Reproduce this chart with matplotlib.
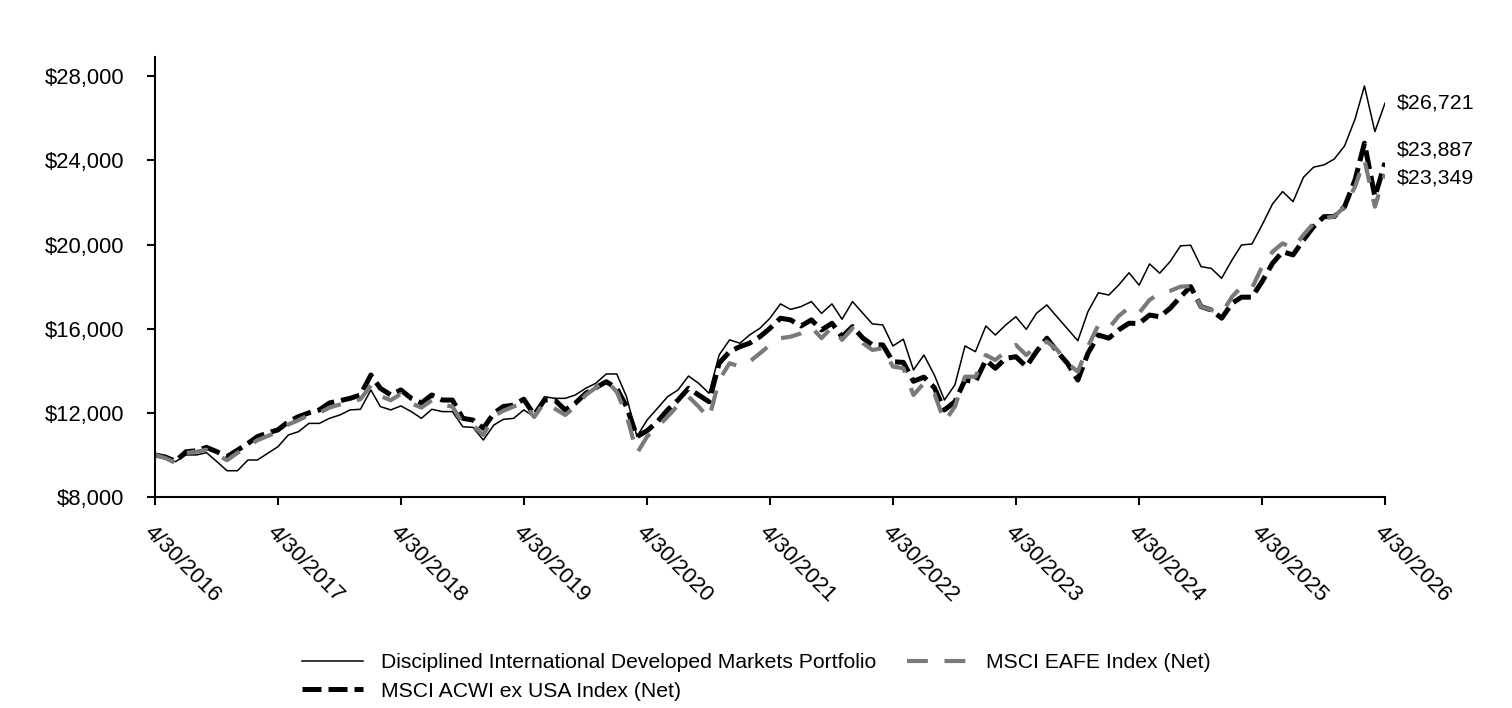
import matplotlib
matplotlib.use('Agg')
import matplotlib.pyplot as plt
import matplotlib.ticker as mticker
import pandas as pd

plt.rcParams['font.family'] = ['Liberation Sans', 'DejaVu Sans']

# monthly values of a $10,000 investment, 4/30/2016 - 4/30/2026
dates = pd.date_range('2016-04-30', periods=121, freq='ME')

portfolio = [
    10000, 9840, 9680, 10000, 10000, 10107, 9680, 9250, 9250, 9760, 9760, 10080,
    10390, 10950, 11105, 11500, 11500, 11740, 11900, 12140, 12170, 13090, 12300, 12140,
    12330, 12060, 11740, 12170, 12060, 12060, 11340, 11310, 10710, 11420, 11690, 11740,
    12140, 11820, 12770, 12690, 12690, 12850, 13170, 13410, 13850, 13850, 12770, 10870,
    11660, 12220, 12770, 13090, 13750, 13410, 12930, 14750, 15470, 15310, 15700, 16020,
    16500, 17180, 16920, 17050, 17290, 16730, 17180, 16450, 17290, 16730, 16230, 16180,
    15180, 15500, 14040, 14750, 13800, 12610, 13330, 15180, 14910, 16130, 15700, 16180,
    16570, 15970, 16730, 17130, 16550, 16000, 15430, 16810, 17710, 17600, 18070, 18660,
    18070, 19080, 18640, 19190, 19940, 19970, 18950, 18870, 18400, 19270, 19980, 20030,
    20930, 21930, 22520, 22040, 23200, 23680, 23790, 24060, 24690, 25960, 27540, 25370,
    26721]

acwi = [
    10000, 9900, 9700, 10150, 10200, 10360, 10150, 9920, 10230, 10550, 10870, 11050,
    11190, 11580, 11820, 12000, 12140, 12470, 12580, 12690, 12850, 13800, 13170, 12850,
    13090, 12690, 12470, 12850, 12610, 12610, 11740, 11660, 11270, 11980, 12300, 12370,
    12650, 11900, 12610, 12610, 12140, 12460, 12930, 13200, 13480, 13170, 12300, 10870,
    11150, 11580, 12140, 12610, 13170, 12850, 12530, 14360, 14910, 15150, 15310, 15620,
    16020, 16500, 16420, 16130, 16420, 15940, 16260, 15620, 16100, 15550, 15230, 15230,
    14430, 14400, 13500, 13700, 13200, 12140, 12530, 13560, 13480, 14510, 14120, 14590,
    14670, 14200, 14910, 15550, 14910, 14360, 13560, 14830, 15700, 15550, 15940, 16260,
    16250, 16650, 16570, 16970, 17520, 18000, 17050, 16890, 16500, 17210, 17500, 17500,
    18240, 19110, 19660, 19510, 20220, 20850, 21330, 21330, 21800, 23070, 24820, 22280,
    23887]

eafe = [
    10000, 9850, 9620, 10100, 10150, 10250, 10000, 9750, 10100, 10400, 10700, 10900,
    11100, 11450, 11650, 11900, 12000, 12250, 12400, 12500, 12650, 13300, 12800, 12600,
    12900, 12450, 12250, 12600, 12380, 12300, 11500, 11400, 10950, 11850, 12100, 12300,
    12450, 11800, 12500, 12200, 11900, 12300, 12850, 13200, 13550, 13000, 11900, 10080,
    10870, 11340, 11820, 12370, 12770, 12300, 11740, 13560, 14360, 14200, 14430, 14830,
    15230, 15550, 15620, 15780, 16070, 15550, 16070, 15470, 16020, 15310, 14990, 15070,
    14200, 14120, 12850, 13410, 12930, 11580, 12300, 13720, 13720, 14750, 14510, 14910,
    15230, 14750, 15150, 15390, 14990, 14360, 13960, 15150, 16180, 16020, 16600, 17000,
    16750, 17370, 17690, 17800, 18000, 18030, 17050, 16890, 16730, 17520, 18000, 17920,
    18950, 19660, 20060, 19820, 20460, 21010, 21250, 21330, 21800, 22750, 24030, 21800,
    23349]

names = ['Disciplined International Developed Markets Portfolio',
         'MSCI ACWI ex USA Index (Net)',
         'MSCI EAFE Index (Net)']

fig = plt.figure(figsize=(15.12, 7.08), dpi=100)
ax = fig.add_axes([0.1025, 0.298, 0.8135, 0.621])

ax.plot(dates, portfolio, color='black', lw=1.1, label=names[0])
ax.plot(dates, acwi, color='black', lw=3.6, dashes=(3.8, 1.4), label=names[1])
ax.plot(dates, eafe, color='#7a7a7a', lw=3.0, dashes=(5, 4), label=names[2])

# end-value labels
ax.annotate('${:,.0f}'.format(portfolio[-1]), (dates[-1], portfolio[-1]),
            xytext=(8.5, 0), textcoords='offset points', va='center', fontsize=15.4)
ax.annotate('${:,.0f}'.format(acwi[-1]), (dates[-1], acwi[-1]),
            xytext=(8.5, 9.5), textcoords='offset points', va='center', fontsize=15.4)
ax.annotate('${:,.0f}'.format(eafe[-1]), (dates[-1], eafe[-1]),
            xytext=(8.5, -2.5), textcoords='offset points', va='center', fontsize=15.4)

ax.set_xlim(dates[0], dates[-1])
ax.set_ylim(8000, 28900)
ax.set_yticks(range(8000, 28001, 4000))
ax.yaxis.set_major_formatter(mticker.FuncFormatter(lambda v, p: '${:,.0f}'.format(v)))
ax.set_xticks(dates[::12])
ax.set_xticklabels(['{}/{}/{}'.format(d.month, d.day, d.year) for d in dates[::12]],
                   rotation=-45, ha='left', va='top', rotation_mode='anchor')

for s in ['top', 'right']:
    ax.spines[s].set_visible(False)
for s in ['left', 'bottom']:
    ax.spines[s].set_linewidth(1.5)
ax.tick_params(axis='both', width=1.5, length=6, direction='out')
ax.tick_params(axis='x', pad=12, labelsize=16)
ax.tick_params(axis='y', pad=16, labelsize=15.8)

fig.legend(loc='center', bbox_to_anchor=(0.5, 0.044), ncol=2, frameon=False,
           fontsize=15.2, handlelength=2.9, handletextpad=0.85, columnspacing=1.45,
           labelspacing=0.45)

fig.savefig('out.png', dpi=100)
